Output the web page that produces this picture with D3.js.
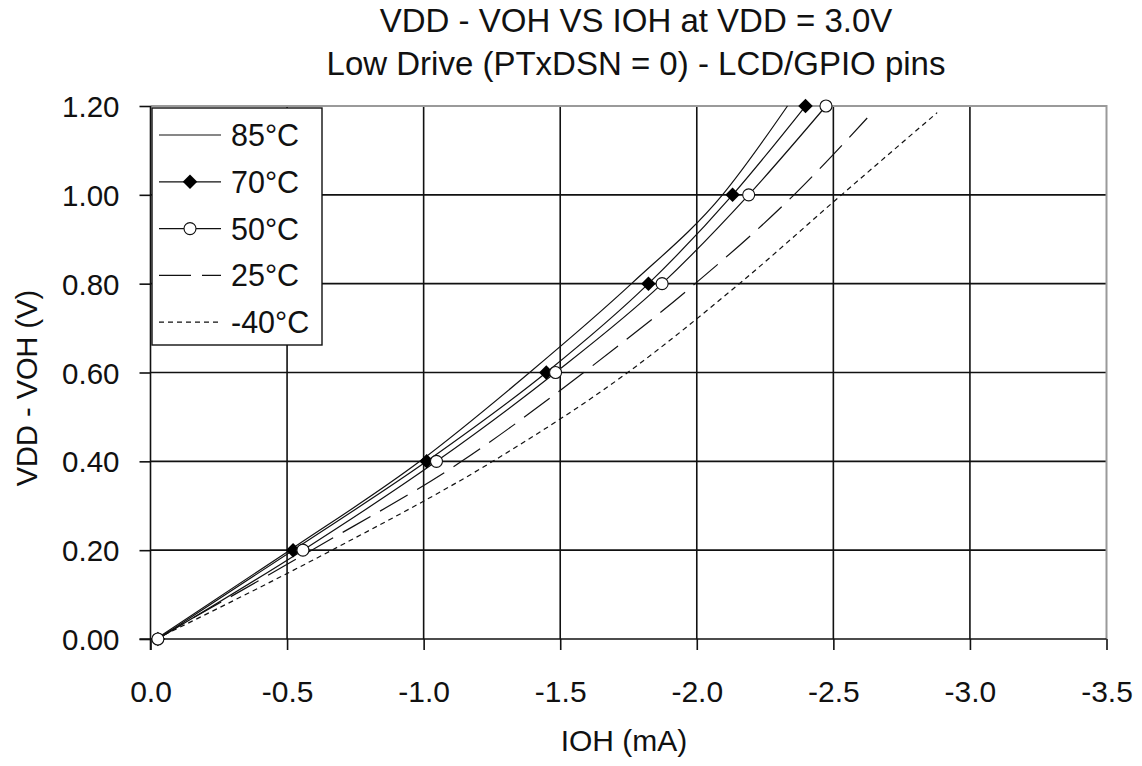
<!DOCTYPE html>
<html>
<head>
<meta charset="utf-8">
<script src="https://cdn.jsdelivr.net/npm/d3@7"></script>
<style>
  html, body { margin: 0; padding: 0; background: #fff; }
  svg { display: block; font-family: Arial, "Liberation Sans", sans-serif; }
</style>
</head>
<body>
<svg id="chart" width="1142" height="766"></svg>
<script>
// Output current IOH (mA) against VDD - VOH (V), per junction temperature
const seriesNames = ["85°C", "70°C", "50°C", "25°C", "-40°C"];

const ioh85  = [-0.02, -0.51, -0.986, -1.388, -1.761, -2.094, -2.332];
const v85    = [0.00, 0.20, 0.40, 0.60, 0.80, 1.00, 1.20];

const ioh70  = [-0.027, -0.522, -1.011, -1.449, -1.823, -2.131, -2.398];
const v70    = [0.00, 0.20, 0.40, 0.60, 0.80, 1.00, 1.20];

const ioh50  = [-0.027, -0.558, -1.047, -1.483, -1.873, -2.190, -2.473];
const v50    = [0.00, 0.20, 0.40, 0.60, 0.80, 1.00, 1.20];

const ioh25  = [-0.02, -0.59, -1.139, -1.586, -1.994, -2.356, -2.624];
const v25    = [0.00, 0.20, 0.40, 0.60, 0.80, 1.00, 1.173];

const iohM40 = [-0.02, -0.664, -1.253, -1.747, -2.156, -2.53, -2.88];
const vM40   = [0.00, 0.20, 0.40, 0.60, 0.80, 1.00, 1.185];

const xTicks = [0, -0.5, -1.0, -1.5, -2.0, -2.5, -3.0, -3.5];
const xTickLabels = ["0.0", "-0.5", "-1.0", "-1.5", "-2.0", "-2.5", "-3.0", "-3.5"];
const yTicks = [0, 0.2, 0.4, 0.6, 0.8, 1.0, 1.2];
const yTickLabels = ["0.00", "0.20", "0.40", "0.60", "0.80", "1.00", "1.20"];

const titleLines = ["VDD - VOH VS IOH at VDD = 3.0V", "Low Drive (PTxDSN = 0) - LCD/GPIO pins"];
const xTitle = "IOH (mA)";
const yTitle = "VDD - VOH (V)";

const zip = (xs, ys) => xs.map((x, i) => ({ x, y: ys[i] }));
const series = [
  { name: seriesNames[0], pts: zip(ioh85, v85),   dash: null,    marker: null },
  { name: seriesNames[1], pts: zip(ioh70, v70),   dash: null,    marker: "diamond" },
  { name: seriesNames[2], pts: zip(ioh50, v50),   dash: null,    marker: "circle" },
  { name: seriesNames[3], pts: zip(ioh25, v25),   dash: "32,11", marker: null },
  { name: seriesNames[4], pts: zip(iohM40, vM40), dash: "5,4",   marker: null }
];

const svg = d3.select("#chart");
const plotL = 150.5, plotR = 1106.5, plotT = 106, plotB = 639;
const tickLen = 11;

const x = d3.scaleLinear().domain([0, -3.5]).range([plotL, plotR]);
const y = d3.scaleLinear().domain([0, 1.2]).range([plotB, plotT]);

// Titles
svg.selectAll("text.title").data(titleLines).join("text")
  .attr("class", "title")
  .attr("x", 636).attr("y", (d, i) => i === 0 ? 32 : 75)
  .attr("text-anchor", "middle")
  .attr("font-size", 33).attr("fill", "#111")
  .text(d => d);

// Grid
const grid = svg.append("g");
grid.selectAll("line.vg").data(xTicks.slice(1, -1)).join("line")
  .attr("x1", d => x(d)).attr("x2", d => x(d))
  .attr("y1", plotT).attr("y2", plotB)
  .attr("stroke", "#111").attr("stroke-width", 1.6);
grid.selectAll("line.hg").data(yTicks.slice(1, -1)).join("line")
  .attr("x1", plotL).attr("x2", plotR)
  .attr("y1", d => y(d)).attr("y2", d => y(d))
  .attr("stroke", "#111").attr("stroke-width", 1.6);

// Plot frame: top and right edges in grey
svg.append("path")
  .attr("d", `M${plotL},${plotT}H${plotR}V${plotB}`)
  .attr("fill", "none").attr("stroke", "#9a9a9a").attr("stroke-width", 2);

// Axes
const xAxis = d3.axisBottom(x).tickValues(xTicks).tickSize(tickLen)
  .tickFormat((d, i) => xTickLabels[i]);
const gx = svg.append("g").attr("transform", `translate(0,${plotB})`).call(xAxis);
gx.select(".domain").attr("stroke", "#111").attr("stroke-width", 1.6)
  .attr("d", `M${plotL - tickLen},0H${plotR}`);
gx.selectAll(".tick line").attr("stroke", "#111").attr("stroke-width", 1.6);
gx.selectAll(".tick text").attr("y", 63).attr("dy", null)
  .attr("font-size", 30).attr("font-family", "Arial, 'Liberation Sans', sans-serif").attr("fill", "#111");

const yAxis = d3.axisLeft(y).tickValues(yTicks).tickSize(tickLen)
  .tickFormat((d, i) => yTickLabels[i]);
const gy = svg.append("g").attr("transform", `translate(${plotL},0)`).call(yAxis);
gy.select(".domain").attr("stroke", "#111").attr("stroke-width", 1.6)
  .attr("d", `M0,${plotT}V${plotB + tickLen}`);
gy.selectAll(".tick line").attr("stroke", "#111").attr("stroke-width", 1.6);
gy.selectAll(".tick text").attr("x", -31).attr("dy", "0.36em")
  .attr("font-size", 29.5).attr("font-family", "Arial, 'Liberation Sans', sans-serif").attr("fill", "#111");

// Axis titles
svg.append("text").attr("x", 624).attr("y", 751)
  .attr("text-anchor", "middle").attr("font-size", 30).attr("fill", "#111")
  .text(xTitle);
svg.append("text")
  .attr("transform", "translate(37,388) rotate(-90)")
  .attr("text-anchor", "middle").attr("font-size", 29).attr("fill", "#111")
  .text(yTitle);

// Curves
const line = d3.line().x(d => x(d.x)).y(d => y(d.y)).curve(d3.curveMonotoneX);
const plot = svg.append("g");
series.forEach(s => {
  plot.append("path").datum(s.pts)
    .attr("d", line)
    .attr("fill", "none").attr("stroke", "#111").attr("stroke-width", 1.2)
    .attr("stroke-dasharray", s.dash);
});

const diamond = d3.symbol(d3.symbolSquare, 105);
function drawMarker(g, type, cx, cy) {
  if (type === "diamond") {
    g.append("path").attr("d", diamond)
      .attr("transform", `translate(${cx},${cy}) rotate(45)`)
      .attr("fill", "#000");
  } else if (type === "circle") {
    g.append("circle").attr("cx", cx).attr("cy", cy).attr("r", 6)
      .attr("fill", "#fff").attr("stroke", "#111").attr("stroke-width", 1.1);
  }
}
series.filter(s => s.marker).forEach(s => {
  s.pts.forEach(p => drawMarker(plot, s.marker, x(p.x), y(p.y)));
});

// Legend
const lg = svg.append("g");
lg.append("rect").attr("x", 152).attr("y", 108).attr("width", 170).attr("height", 237)
  .attr("fill", "#fff").attr("stroke", "#111").attr("stroke-width", 1.4);
series.forEach((s, i) => {
  const cy = 135 + i * 46.8;
  lg.append("line").attr("x1", 159).attr("x2", 221).attr("y1", cy).attr("y2", cy)
    .attr("stroke", "#111").attr("stroke-width", 1.2)
    .attr("stroke-dasharray", s.dash);
  if (s.marker) drawMarker(lg, s.marker, 190, cy);
  lg.append("text").attr("x", 231).attr("y", cy + 11)
    .attr("font-size", 30.5).attr("fill", "#111").text(s.name);
});
</script>
</body>
</html>
